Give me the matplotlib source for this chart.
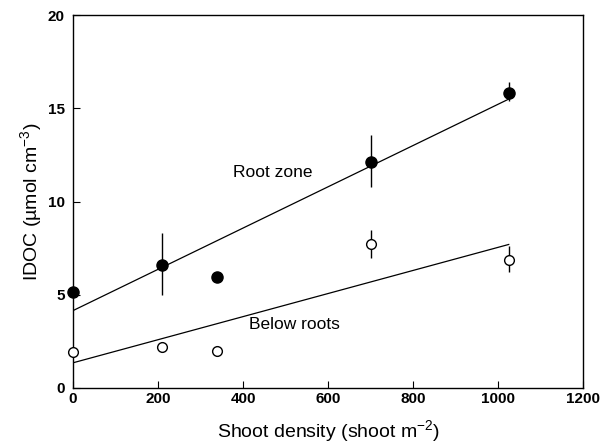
import numpy as np
import matplotlib.pyplot as plt

plt.rcParams['font.family'] = ['Liberation Sans', 'DejaVu Sans']

# Datos
density = [0, 210, 338, 700, 1025]

root_zone = [5.15, 6.6, 5.97, 12.15, 15.85]
root_err_lo = [0, 1.6, 0, 1.35, 0.45]
root_err_hi = [0, 1.7, 0, 1.4, 0.55]

below = [1.95, 2.2, 2.0, 7.7, 6.86]
below_err_lo = [0, 0, 0, 0.75, 0.66]
below_err_hi = [0, 0, 0, 0.75, 0.74]

# Rectas de ajuste
fit_x = [0, 1025]
fit_root = [4.15, 15.5]
fit_below = [1.35, 7.7]

fig = plt.figure(figsize=(6.03, 4.48), dpi=100)
ax = fig.add_axes([0.121, 0.134, 0.846, 0.832])

ax.plot(fit_x, fit_root, color='black', lw=0.9)
ax.plot(fit_x, fit_below, color='black', lw=0.9)

e1 = ax.errorbar(density, root_zone, yerr=[root_err_lo, root_err_hi], fmt='o',
                 color='black', ms=8, elinewidth=1, capsize=0, zorder=3)
e2 = ax.errorbar(density, below, yerr=[below_err_lo, below_err_hi], fmt='o',
                 color='black', mfc='white', mec='black', ms=7, mew=1,
                 elinewidth=1, capsize=0, zorder=3)
for e in (e1, e2):
    e[0].set_clip_on(False)

ax.text(470, 11.55, 'Root zone', fontsize=12.5, ha='center', va='center')
ax.text(520, 3.38, 'Below roots', fontsize=12.5, ha='center', va='center')

ax.set_xlim(0, 1200)
ax.set_ylim(0, 20)
ax.set_xticks([0, 200, 400, 600, 800, 1000, 1200])
ax.set_yticks([0, 5, 10, 15, 20])
ax.tick_params(direction='in', length=5, width=0.8, labelsize=11)
ax.tick_params(axis='x', pad=3)
ax.tick_params(axis='y', pad=6)
for lab in ax.get_xticklabels() + ax.get_yticklabels():
    lab.set_fontweight('bold')

ax.set_xlabel('Shoot density (shoot m$^{\\mathregular{-2}}$)', fontsize=14, labelpad=9)
ax.set_ylabel('IDOC (\u00b5mol cm$^{\\mathregular{-3}}$)', fontsize=14, labelpad=2)

for s in ax.spines.values():
    s.set_linewidth(1)

fig.savefig('out.png', dpi=100)
